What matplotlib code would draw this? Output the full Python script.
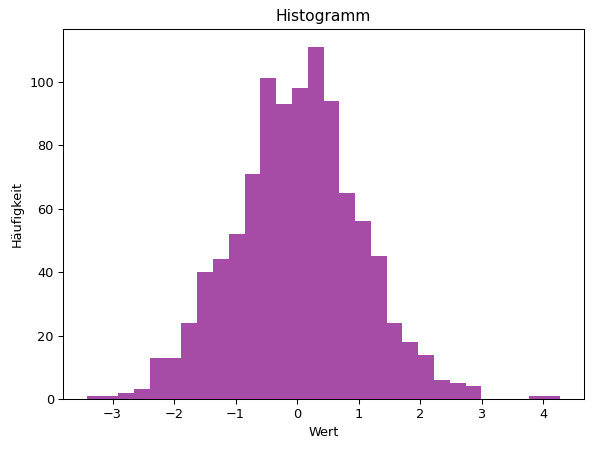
import numpy as np
import matplotlib
matplotlib.use("Agg")
import matplotlib.pyplot as plt

# histogram of 1000 values, 30 bins
bin_start = -3.42
bin_end = 4.28
counts = [1, 1, 2, 3, 13, 13, 24, 40, 44, 52,
          71, 101, 93, 98, 111, 94, 65, 56, 45, 24,
          18, 14, 6, 5, 4, 0, 0, 0, 1, 1]

edges = np.linspace(bin_start, bin_end, len(counts) + 1)
centers = (edges[:-1] + edges[1:]) / 2

dpi = 92.7
W, H = 593, 449
fig = plt.figure(figsize=(W / dpi, H / dpi), dpi=dpi)
ax = fig.add_axes([63 / W, 50 / H, 521 / W, 370 / H])

# stepfilled gives one polygon, so no hairline gaps between bars
ax.hist(centers, bins=edges, weights=counts, color='purple', alpha=0.7,
        histtype='stepfilled')
ax.set_title("Histogramm")
ax.set_xlabel("Wert")
ax.set_ylabel("Häufigkeit")

fig.savefig("out.png", dpi=dpi)
